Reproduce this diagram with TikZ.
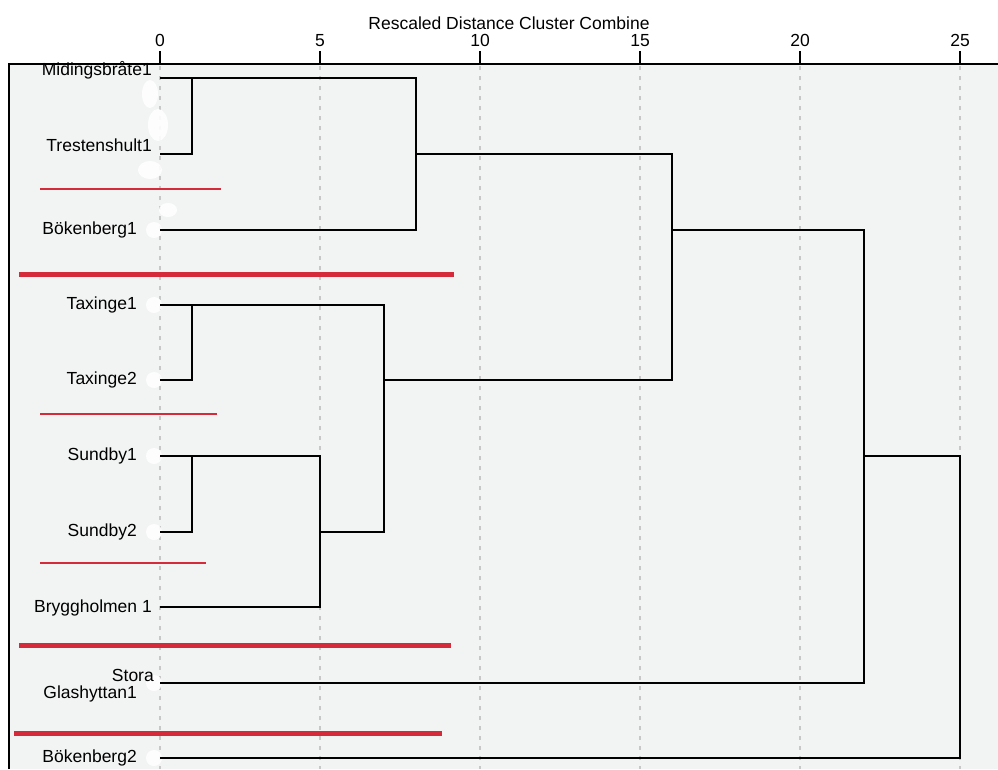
\documentclass[tikz,border=0pt]{standalone}
\usepackage{fontspec}
\setmainfont{Liberation Sans}
\definecolor{panel}{HTML}{F2F3F3}
\definecolor{gridgray}{HTML}{C8C8C8}
\definecolor{cutred}{HTML}{D42A3A}

\tikzset{
  leaflabel/.style={anchor=east, inner sep=0pt, font=\fontsize{17.5}{18}\selectfont},
  ticklabel/.style={anchor=south, inner sep=0pt, font=\fontsize{17.5}{18}\selectfont},
  branch/.style={line width=2.6pt, black},
  cutthin/.style={line width=1.4pt, cutred},
  cutthick/.style={line width=5pt, cutred},
  smudge/.style={fill=white, draw=none, opacity=0.9}
}

\begin{document}
\begin{tikzpicture}[x=1pt,y=-1pt]
\useasboundingbox (0,0) rectangle (998,769);

% panel and axis
\fill[panel] (9,64) rectangle (998,769);
\draw[line width=1.2pt] (9,769) -- (9,64) -- (998,64);
\foreach \t in {0,5,...,25} {
    \draw[gridgray, line width=1.2pt, dash pattern=on 4pt off 6pt] (160+32*\t,66) -- (160+32*\t,769);
    \draw[line width=1.6pt] (160+32*\t,64) -- (160+32*\t,51);
    \node[ticklabel] at (160+32*\t,47) {\t};
}
\node[ticklabel] (title) at (509,30) {Rescaled Distance Cluster Combine};

% leaves
\foreach \i/\y in {1/78,2/154,3/230,4/305,5/380,6/456,7/532,8/607,9/683,10/758}
    \coordinate (leaf\i) at (160,\y);

% erased case numbers
\foreach \i in {3,4,5,6,7,9,10}
    \fill[smudge] ([xshift=-6pt]leaf\i) circle (8);
\fill[smudge] (150,94) ellipse (8 and 14);
\fill[smudge] (158,125) ellipse (10 and 16);
\fill[smudge] (150,170) ellipse (12 and 9);
\fill[smudge] (168,210) ellipse (9 and 7);

\node[leaflabel] (lab1) at (152,70) {Midingsbråte1};
\node[leaflabel] (lab2) at (152,145) {Trestenshult1};
\node[leaflabel] (lab3) at (137,230) {Bökenberg1};
\node[leaflabel] (lab4) at (137,305) {Taxinge1};
\node[leaflabel] (lab5) at (137,380) {Taxinge2};
\node[leaflabel] (lab6) at (137,456) {Sundby1};
\node[leaflabel] (lab7) at (137,532) {Sundby2};
\node[leaflabel] (lab8) at (152,608) {Bryggholmen 1};
\node[leaflabel] (lab9a) at (154,675) {Stora};
\node[leaflabel] (lab9b) at (137,694) {Glashyttan1};
\node[leaflabel] (lab10) at (137,758) {Bökenberg2};

% merge heights
\foreach \n/\h in {h1/1,h5/5,h7/7,h8/8,h16/16,h22/22,h25/25}
    \coordinate (\n) at (160+32*\h,0);

% dendrogram
\draw[branch] (leaf2) -| (h1 |- leaf1);
\draw[branch] (leaf1) -| (h8 |- leaf3) -- (leaf3);
\draw[branch] (leaf5) -| (h1 |- leaf4);
\draw[branch] (leaf7) -| (h1 |- leaf6);
\draw[branch] (leaf6) -| (h5 |- leaf8) -- (leaf8);
\draw[branch] (leaf4) -| (h7 |- leaf7) -- (h5 |- leaf7);
\draw[branch] (h8 |- leaf2) -| (h16 |- leaf5) -- (h7 |- leaf5);
\draw[branch] (h16 |- leaf3) -| (h22 |- leaf9) -- (leaf9);
\draw[branch] (h22 |- leaf6) -| (h25 |- leaf10) -- (leaf10);

% cut lines
\draw[cutthin] (40,189) -- (221,189);
\draw[cutthin] (40,414) -- (217,414);
\draw[cutthin] (40,563) -- (206,563);
\draw[cutthick] (19,274) -- (454,274);
\draw[cutthick] (19,645) -- (451,645);
\draw[cutthick] (14,733) -- (442,733);

\end{tikzpicture}
\end{document}
